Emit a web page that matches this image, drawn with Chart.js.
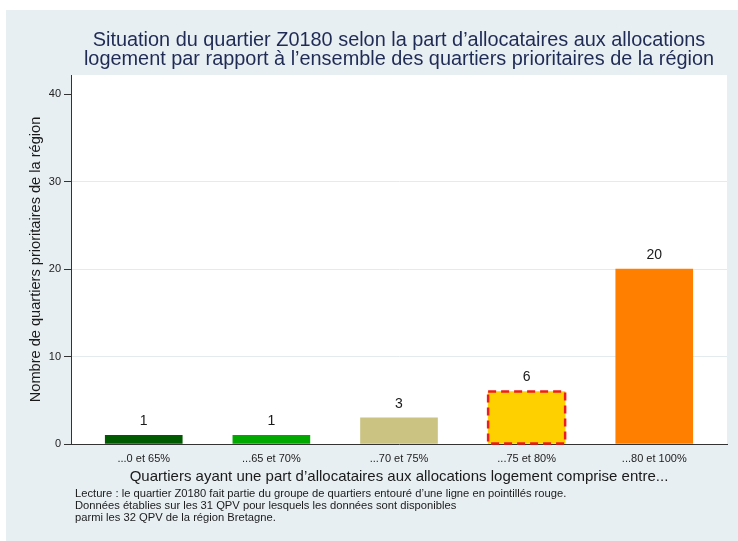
<!DOCTYPE html>
<html>
<head>
<meta charset="utf-8">
<script src="https://cdn.jsdelivr.net/npm/chart.js@4"></script>
<style>
  body { margin: 0; background: #fff; }
  canvas { display: block; }
</style>
</head>
<body>
<canvas id="qpvChart" width="738" height="541"></canvas>
<script>
const categories = ["...0 et 65%", "...65 et 70%", "...70 et 75%", "...75 et 80%", "...80 et 100%"];
const counts = [1, 1, 3, 6, 20];
const barColors = ["#005a00", "#00a800", "#cbc382", "#ffd000", "#ff8000"];
const highlighted = 3; // groupe du quartier Z0180
const yTicks = [0, 10, 20, 30, 40];
const titleLines = [
  "Situation du quartier Z0180 selon la part d\u2019allocataires aux allocations",
  "logement par rapport \u00e0 l\u2019ensemble des quartiers prioritaires de la r\u00e9gion"
];
const notes = [
  "Lecture : le quartier Z0180 fait partie du groupe de quartiers entour\u00e9 d\u2019une ligne en pointill\u00e9s rouge.",
  "Donn\u00e9es \u00e9tablies sur les 31 QPV pour lesquels les donn\u00e9es sont disponibles",
  "parmi les 32 QPV de la r\u00e9gion Bretagne."
];

const FONT = "'Liberation Sans', Arial, sans-serif";

const backgroundPlugin = {
  id: "background",
  beforeDraw(chart) {
    const { ctx, chartArea } = chart;
    ctx.save();
    ctx.fillStyle = "#ffffff";
    ctx.fillRect(0, 0, chart.width, chart.height);
    ctx.fillStyle = "#e8eff2";
    ctx.fillRect(6, 10, chart.width - 6, chart.height - 10);
    ctx.fillStyle = "#ffffff";
    ctx.fillRect(chartArea.left, chartArea.top, chartArea.right - chartArea.left, chartArea.bottom - chartArea.top);
    ctx.restore();
  }
};

const barExtrasPlugin = {
  id: "barExtras",
  afterDatasetsDraw(chart) {
    const { ctx } = chart;
    const meta = chart.getDatasetMeta(0);
    ctx.save();
    meta.data.forEach((bar, i) => {
      ctx.fillStyle = "#1a1a1a";
      ctx.font = "14px " + FONT;
      ctx.textAlign = "center";
      ctx.textBaseline = "middle";
      ctx.fillText(String(counts[i]), bar.x, bar.y - 14);
      if (i === highlighted) {
        const half = bar.width / 2;
        ctx.strokeStyle = "#ee1c1c";
        ctx.lineWidth = 2.5;
        ctx.setLineDash([8, 5]);
        ctx.strokeRect(bar.x - half, bar.y, bar.width, bar.base - bar.y);
        ctx.setLineDash([]);
      }
    });
    // notes de lecture
    ctx.fillStyle = "#1a1a1a";
    ctx.font = "11.2px " + FONT;
    ctx.textAlign = "left";
    ctx.textBaseline = "middle";
    notes.forEach((line, k) => ctx.fillText(line, 75, 494 + k * 12));
    ctx.restore();
  }
};

new Chart(document.getElementById("qpvChart"), {
  type: "bar",
  data: {
    datasets: [
      {
        data: counts.map((v, i) => ({ x: i, y: v })),
        backgroundColor: barColors,
        borderWidth: 0,
        barThickness: 77,
      },
    ],
  },
  options: {
    responsive: false,
    animation: false,
    layout: { padding: { left: 6, top: 0, right: 11, bottom: 0 } },
    plugins: {
      legend: { display: false },
      tooltip: { enabled: false },
      title: {
        display: true,
        fullSize: false,
        text: titleLines,
        color: "#1f2b55",
        font: { family: FONT, size: 19.9, weight: "normal", lineHeight: 0.98 },
        padding: { top: 30.5, bottom: 5.5 },
      },
    },
    scales: {
      x: {
        type: "linear",
        min: -0.57,
        max: 4.57,
        offset: false,
        afterFit(scale) { scale.height = 97; },
        grid: { display: false, drawTicks: false },
        border: { display: true, color: "#333333", width: 1 },
        ticks: {
          stepSize: 1,
          autoSkip: false,
          maxRotation: 0,
          padding: 8,
          color: "#222222",
          font: { family: FONT, size: 11 },
          callback: (value) => (Number.isInteger(value) && categories[value] !== undefined ? categories[value] : null),
        },
        title: {
          display: true,
          text: "Quartiers ayant une part d\u2019allocataires aux allocations logement comprise entre...",
          color: "#1a1a1a",
          font: { family: FONT, size: 15 },
          padding: { top: 0, bottom: 55 },
        },
      },
      y: {
        min: 0,
        max: 42.2,
        afterFit(scale) { scale.width = 65; },
        afterBuildTicks(scale) { scale.ticks = yTicks.map((v) => ({ value: v })); },
        grid: {
          color: (ctx) => ([10, 20, 30].includes(ctx.tick && ctx.tick.value) ? "#e3ebef" : "rgba(0,0,0,0)"),
          tickColor: "#333333",
          tickLength: 7,
        },
        border: { display: true, color: "#333333", width: 1 },
        ticks: {
          padding: 3,
          color: "#222222",
          font: { family: FONT, size: 11 },
        },
        title: {
          display: true,
          text: "Nombre de quartiers prioritaires de la r\u00e9gion",
          color: "#1a1a1a",
          font: { family: FONT, size: 14.6 },
          padding: { top: 21.5, bottom: 0 },
        },
      },
    },
  },
  plugins: [backgroundPlugin, barExtrasPlugin],
});
</script>
</body>
</html>
